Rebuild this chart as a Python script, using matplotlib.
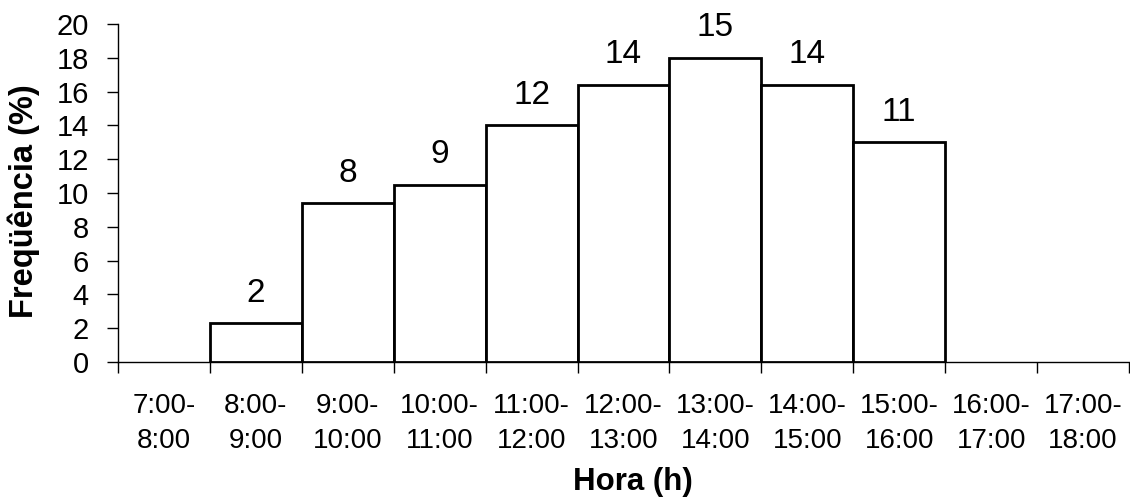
import matplotlib
matplotlib.use("Agg")
import matplotlib.pyplot as plt

plt.rcParams['font.family'] = ['Liberation Sans', 'DejaVu Sans']

# Hourly intervals on the horizontal axis
intervals = ["7:00-\n8:00", "8:00-\n9:00", "9:00-\n10:00", "10:00-\n11:00",
             "11:00-\n12:00", "12:00-\n13:00", "13:00-\n14:00", "14:00-\n15:00",
             "15:00-\n16:00", "16:00-\n17:00", "17:00-\n18:00"]
# Relative frequency (%) for each interval (empty intervals have no bar)
frequency_pct = [0, 2.3, 9.4, 10.5, 14.0, 16.4, 18.0, 16.4, 13.0, 0, 0]
# Absolute counts printed above the bars
counts = [None, 2, 8, 9, 12, 14, 15, 14, 11, None, None]

W, H = 1130, 503
fig = plt.figure(figsize=(W / 100, H / 100), dpi=100)
fig.patch.set_facecolor("white")
ax = fig.add_axes([118 / W, 1 - 362 / H, (1129 - 118) / W, (362 - 24) / H])

n = len(intervals)
for i, (v, c) in enumerate(zip(frequency_pct, counts)):
    if c is None:
        continue
    ax.bar(i, v, width=1.0, align="edge", facecolor="white",
           edgecolor="black", linewidth=2.0, zorder=3)
    ax.annotate(str(c), xy=(i + 0.5, v), xytext=(0, 15.5),
                textcoords="offset points", ha="center", va="baseline",
                fontsize=24, zorder=4)

ax.set_xlim(0, n)
ax.set_ylim(0, 20)
ax.set_yticks(range(0, 21, 2))
ax.tick_params(axis="y", direction="out", length=8, width=1, labelsize=21, pad=13)

# Tick marks at interval boundaries, labels at interval centres
ax.set_xticks(range(0, n + 1))
ax.set_xticklabels([])
ax.set_xticks([i + 0.5 for i in range(n)], minor=True)
ax.set_xticklabels(intervals, minor=True, fontsize=20, linespacing=1.45)
ax.tick_params(axis="x", which="major", direction="out", length=8, width=1)
ax.tick_params(axis="x", which="minor", length=0, pad=22)

for side in ("top", "right"):
    ax.spines[side].set_visible(False)
for side in ("left", "bottom"):
    ax.spines[side].set_linewidth(1.0)
ax.set_facecolor("white")

fig.text(633 / W, 1 - 482 / H, "Hora (h)", ha="center", va="center",
         fontsize=22.5, fontweight="bold")
fig.text(24 / W, 1 - 201 / H, "Freqüência (%)", ha="center", va="center",
         rotation=90, fontsize=23.5, fontweight="bold")

fig.savefig("out.png", dpi=100, facecolor="white")
